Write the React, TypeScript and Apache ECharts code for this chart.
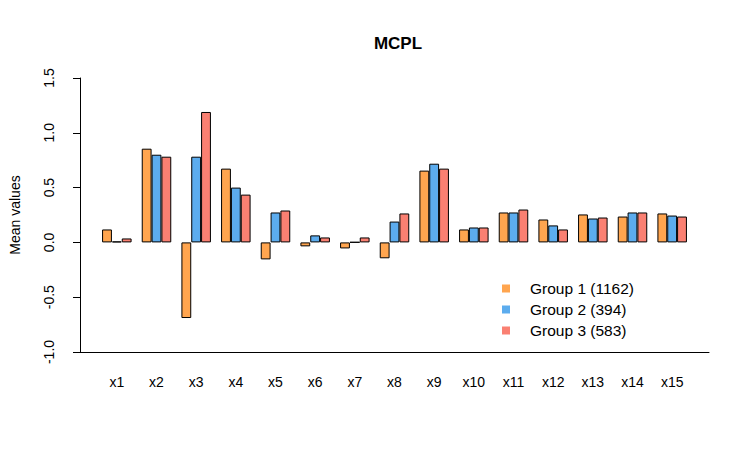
import React, { useEffect, useRef } from "react";
import * as echarts from "echarts";

const categories = ["x1","x2","x3","x4","x5","x6","x7","x8","x9","x10","x11","x12","x13","x14","x15"];
const group1 = [0.118, 0.855, -0.69, 0.673, -0.155, -0.036, -0.055, -0.145, 0.655, 0.118, 0.273, 0.209, 0.255, 0.236, 0.264];
const group2 = [0.009, 0.80, 0.782, 0.50, 0.273, 0.064, 0.002, 0.19, 0.718, 0.136, 0.273, 0.155, 0.218, 0.273, 0.245];
const group3 = [0.036, 0.782, 1.19, 0.436, 0.291, 0.045, 0.045, 0.264, 0.673, 0.136, 0.30, 0.118, 0.227, 0.273, 0.236];
const seriesNames = ["Group 1 (1162)", "Group 2 (394)", "Group 3 (583)"];
const colors = ["#FFA54F", "#5CACEE", "#FA8072"];

const FONT = "Liberation Sans, Arial, sans-serif";

export default function App() {
  const ref = useRef<HTMLDivElement>(null);
  useEffect(() => {
    if (!ref.current) return;
    const chart = echarts.init(ref.current, null, { renderer: "svg" });
    const data = [group1, group2, group3];
    chart.setOption({
      animation: false,
      backgroundColor: "#ffffff",
      title: {
        text: "MCPL",
        left: 393,
        top: 30,
        textAlign: "center",
        textStyle: { fontFamily: FONT, fontWeight: "bold", fontSize: 17, color: "#000" },
      },
      legend: {
        orient: "vertical",
        left: 497,
        top: 273,
        icon: "rect",
        itemWidth: 8,
        itemHeight: 8,
        itemGap: 0,
        itemStyle: { borderWidth: 0 },
        textStyle: { fontFamily: FONT, fontSize: 15.5, color: "#000", lineHeight: 21, padding: [0, 0, 0, 15] },
        data: seriesNames,
      },
      grid: [
        { left: 97, right: 58, top: 78, bottom: 98 },
        { left: 78, right: 41, top: 78, bottom: 98 },
      ],
      xAxis: [
        {
          type: "category",
          gridIndex: 0,
          data: categories,
          axisLine: { show: false },
          axisTick: { show: false },
          axisLabel: { margin: 23, fontFamily: FONT, fontSize: 14, color: "#000" },
        },
        {
          type: "value",
          gridIndex: 1,
          min: 0,
          max: 1,
          axisLine: { show: true, onZero: false, lineStyle: { color: "#000", width: 1 } },
          axisTick: { show: false },
          axisLabel: { show: false },
          splitLine: { show: false },
        },
      ],
      yAxis: [
        {
          type: "value",
          gridIndex: 0,
          min: -1,
          max: 1.5,
          interval: 0.5,
          show: false,
          splitLine: { show: false },
        },
        {
          type: "value",
          gridIndex: 1,
          min: -1,
          max: 1.5,
          interval: 0.5,
          name: "Mean values",
          nameLocation: "middle",
          nameGap: 58,
          nameRotate: 90,
          nameTextStyle: { fontFamily: FONT, fontSize: 14, color: "#000" },
          axisLine: { show: true, onZero: false, lineStyle: { color: "#000", width: 1 } },
          axisTick: { show: true, length: 7, lineStyle: { color: "#000" } },
          axisLabel: {
            rotate: 90,
            margin: 24,
            fontFamily: FONT,
            fontSize: 14,
            color: "#000",
            formatter: (v: number) => v.toFixed(1),
          },
          splitLine: { show: false },
        },
      ],
      series: data.map((d, i) => ({
        name: seriesNames[i],
        type: "bar",
        xAxisIndex: 0,
        yAxisIndex: 0,
        data: d,
        barGap: "0%",
        barCategoryGap: "25.6%",
        itemStyle: { color: colors[i], borderColor: "#000", borderWidth: 1 },
      })),
    });
    return () => chart.dispose();
  }, []);
  return <div ref={ref} style={{ width: 750, height: 450, position: "absolute", left: 0, top: 0 }} />;
}
